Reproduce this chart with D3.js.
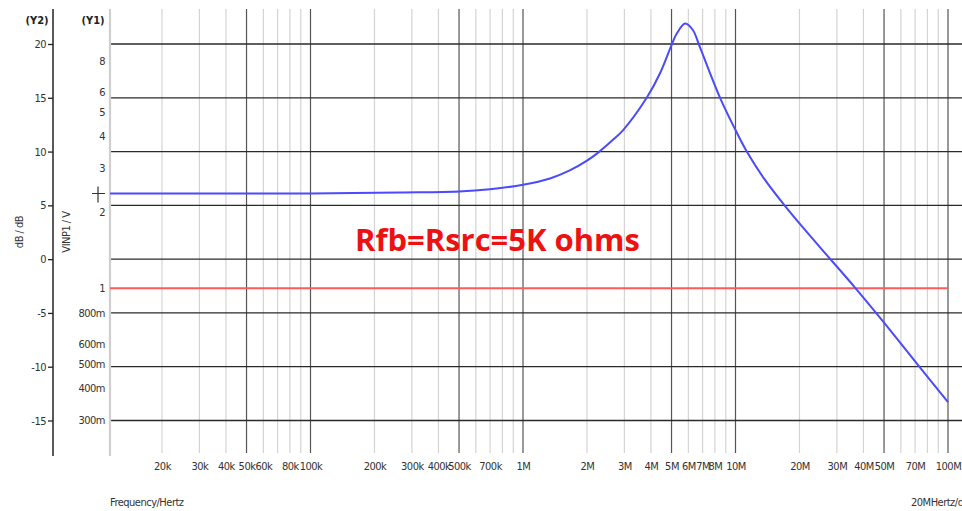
<!DOCTYPE html>
<html>
<head>
<meta charset="utf-8">
<script src="https://cdn.jsdelivr.net/npm/d3@7"></script>
<style>
  body { margin: 0; background: #fff; }
  svg { display: block; }
  .tick-label { font-family: "DejaVu Sans Condensed", "Liberation Sans", sans-serif; font-size: 11px; letter-spacing: -0.5px; fill: #333; }
</style>
</head>
<body>
<svg id="chart" width="962" height="511"></svg>
<script>
// Frequency response: gain of the amplifier stage (dB) versus frequency (Hz)
const freqHz = [11.4e3, 50e3, 100e3, 264e3, 500e3, 700e3, 1e6, 1.34e6, 1.66e6, 2e6, 2.28e6, 2.65e6,
                2.96e6, 3.84e6, 4.42e6, 5.0e6, 5.3e6, 5.8e6, 6.3e6, 6.8e6, 8.46e6, 10e6, 11.3e6,
                13.5e6, 17.5e6, 25e6, 36.5e6, 50e6, 72e6, 100e6];
const gainDb = [6.10, 6.10, 6.11, 6.20, 6.29, 6.50, 6.91, 7.50, 8.25, 9.15, 9.97, 11.09,
                12.0, 15.07, 17.3, 19.9, 21.0, 21.9, 21.3, 19.7, 15.0, 12.0, 10.0,
                7.6, 4.7, 1.1, -2.64, -5.9, -9.8, -13.3];

// Input reference level on the Y1 (volts) axis
const inputLevelV = 1;

// Axis ticks
const y2TickValues = [20, 15, 10, 5, 0, -5, -10, -15];
const y1TickValues = [8, 6, 5, 4, 3, 2, 1, 0.8, 0.6, 0.5, 0.4, 0.3];
const y1TickLabels = ["8", "6", "5", "4", "3", "2", "1", "800m", "600m", "500m", "400m", "300m"];
const xTickValues = [2e4, 3e4, 4e4, 5e4, 6e4, 8e4, 1e5, 2e5, 3e5, 4e5, 5e5, 7e5,
                     1e6, 2e6, 3e6, 4e6, 5e6, 6e6, 7e6, 8e6, 1e7, 2e7, 3e7, 4e7, 5e7, 7e7, 1e8];
const xTickLabels = ["20k", "30k", "40k", "50k", "60k", "80k", "100k", "200k", "300k", "400k", "500k", "700k",
                     "1M", "2M", "3M", "4M", "5M", "6M", "7M", "8M", "10M", "20M", "30M", "40M", "50M", "70M", "100M"];

const svg = d3.select("#chart");
const W = 962, H = 511;
const plotLeft = 110, plotRight = W, plotTop = 9, plotBottom = 453;

const x = d3.scaleLog().domain([1e4, 1e8]).range([98, 948]);
const y2 = d3.scaleLinear().domain([-15, 20]).range([420.5, 44]);
const y1 = d3.scaleLog().domain([1, 10]).range([288.3, 36.3]);

// Vertical grid: every 1..9 multiple within the sweep, 1x and 5x darker
const gridFreqs = [];
for (let dec = 1e4; dec <= 1e8; dec *= 10) {
  for (let m = 1; m <= 9; m++) {
    const f = dec * m;
    if (f <= 1e8 && x(f) > plotLeft + 2) gridFreqs.push({ f, major: m === 1 || m === 5 });
  }
}
const gridG = svg.append("g");
gridG.selectAll("line.vminor").data(gridFreqs.filter(d => !d.major)).join("line")
  .attr("x1", d => x(d.f)).attr("x2", d => x(d.f))
  .attr("y1", plotTop).attr("y2", plotBottom)
  .attr("stroke", "#d4d4d4").attr("stroke-width", 1.2);
gridG.selectAll("line.vmajor").data(gridFreqs.filter(d => d.major)).join("line")
  .attr("x1", d => x(d.f)).attr("x2", d => x(d.f))
  .attr("y1", plotTop).attr("y2", plotBottom)
  .attr("stroke", "#555").attr("stroke-width", 1.2);

// Horizontal grid at Y2 ticks
gridG.selectAll("line.h").data(y2TickValues).join("line")
  .attr("x1", plotLeft).attr("x2", plotRight)
  .attr("y1", d => y2(d)).attr("y2", d => y2(d))
  .attr("stroke", "#2a2a2a").attr("stroke-width", 1.3);

// Y1 axis line (light) at plot left
svg.append("line").attr("x1", plotLeft).attr("x2", plotLeft)
  .attr("y1", plotTop).attr("y2", 456)
  .attr("stroke", "#cfcfcf").attr("stroke-width", 2.2);

// Y2 axis
const y2Axis = d3.axisLeft(y2).tickValues(y2TickValues).tickSize(5).tickPadding(2)
  .tickFormat(d => String(d));
const y2G = svg.append("g").attr("transform", "translate(53,0)").call(y2Axis);
y2G.select(".domain").remove();
y2G.selectAll(".tick line").attr("stroke", "#222").attr("stroke-width", 1.3);
y2G.selectAll(".tick text").attr("class", "tick-label").attr("fill", "#333");
svg.append("line").attr("x1", 53).attr("x2", 53).attr("y1", plotTop).attr("y2", 456)
  .attr("stroke", "#222").attr("stroke-width", 1.5);

// Y1 labels (no tick marks)
svg.append("g").selectAll("text").data(y1TickValues).join("text")
  .attr("class", "tick-label")
  .attr("x", 105).attr("y", d => y1(d)).attr("dy", "0.35em")
  .attr("text-anchor", "end")
  .text((d, i) => y1TickLabels[i]);

// X axis labels
const xAxis = d3.axisBottom(x).tickValues(xTickValues).tickSize(0).tickPadding(0)
  .tickFormat((d, i) => xTickLabels[i]);
const xG = svg.append("g").attr("transform", "translate(0,462)").call(xAxis);
xG.select(".domain").remove();
xG.selectAll(".tick text").attr("class", "tick-label").attr("dy", "0.71em");

// Axis titles
svg.append("text").attr("x", 37).attr("y", 24).attr("text-anchor", "middle")
  .attr("font-family", "DejaVu Sans Condensed, sans-serif")
  .attr("font-size", 11).attr("font-weight", "bold").attr("fill", "#222").text("(Y2)");
svg.append("text").attr("x", 93).attr("y", 24).attr("text-anchor", "middle")
  .attr("font-family", "DejaVu Sans Condensed, sans-serif")
  .attr("font-size", 11).attr("font-weight", "bold").attr("fill", "#222").text("(Y1)");
svg.append("text").attr("transform", "translate(23,232) rotate(-90)").attr("text-anchor", "middle")
  .attr("class", "tick-label").attr("fill", "#555").text("dB / dB");
svg.append("text").attr("transform", "translate(70,232) rotate(-90)").attr("text-anchor", "middle")
  .attr("class", "tick-label").attr("fill", "#222").text("VINP1 / V");
svg.append("text").attr("x", 110).attr("y", 506).attr("class", "tick-label").text("Frequency/Hertz");
svg.append("text").attr("x", 911).attr("y", 506).attr("class", "tick-label").text("20MHertz/div");

// Traces
svg.append("clipPath").attr("id", "plotClip").append("rect")
  .attr("x", plotLeft).attr("y", plotTop).attr("width", plotRight - plotLeft).attr("height", plotBottom - plotTop);
const traceG = svg.append("g").attr("clip-path", "url(#plotClip)");

traceG.append("line")
  .attr("x1", plotLeft).attr("x2", x(1e8))
  .attr("y1", y1(inputLevelV)).attr("y2", y1(inputLevelV))
  .attr("stroke", "#ff5a5a").attr("stroke-width", 2);

const pts = freqHz.map((f, i) => [f, gainDb[i]]);
const line = d3.line().x(d => x(d[0])).y(d => y2(d[1])).curve(d3.curveCatmullRom.alpha(0.5));
traceG.append("path").attr("d", line(pts))
  .attr("fill", "none").attr("stroke", "#4a4aff").attr("stroke-width", 2);

// Cursor marker at the start of the trace
const my = y2(gainDb[0]), mx = 98;
svg.append("path").attr("d", `M${mx - 6},${my}H${mx + 7}M${mx},${my - 7}V${my + 9}`)
  .attr("stroke", "#333").attr("stroke-width", 1.2);

// Annotation
const note = svg.append("text").attr("x", 355).attr("y", 251)
  .attr("font-family", "Open Sans, Liberation Sans, sans-serif")
  .attr("font-weight", "bold").attr("font-size", 30).attr("fill", "#ee1111")
  .text("Rfb=Rsrc=5K ohms");
const len = note.node().getComputedTextLength();
note.attr("font-size", 30 * 285 / len);
</script>
</body>
</html>
